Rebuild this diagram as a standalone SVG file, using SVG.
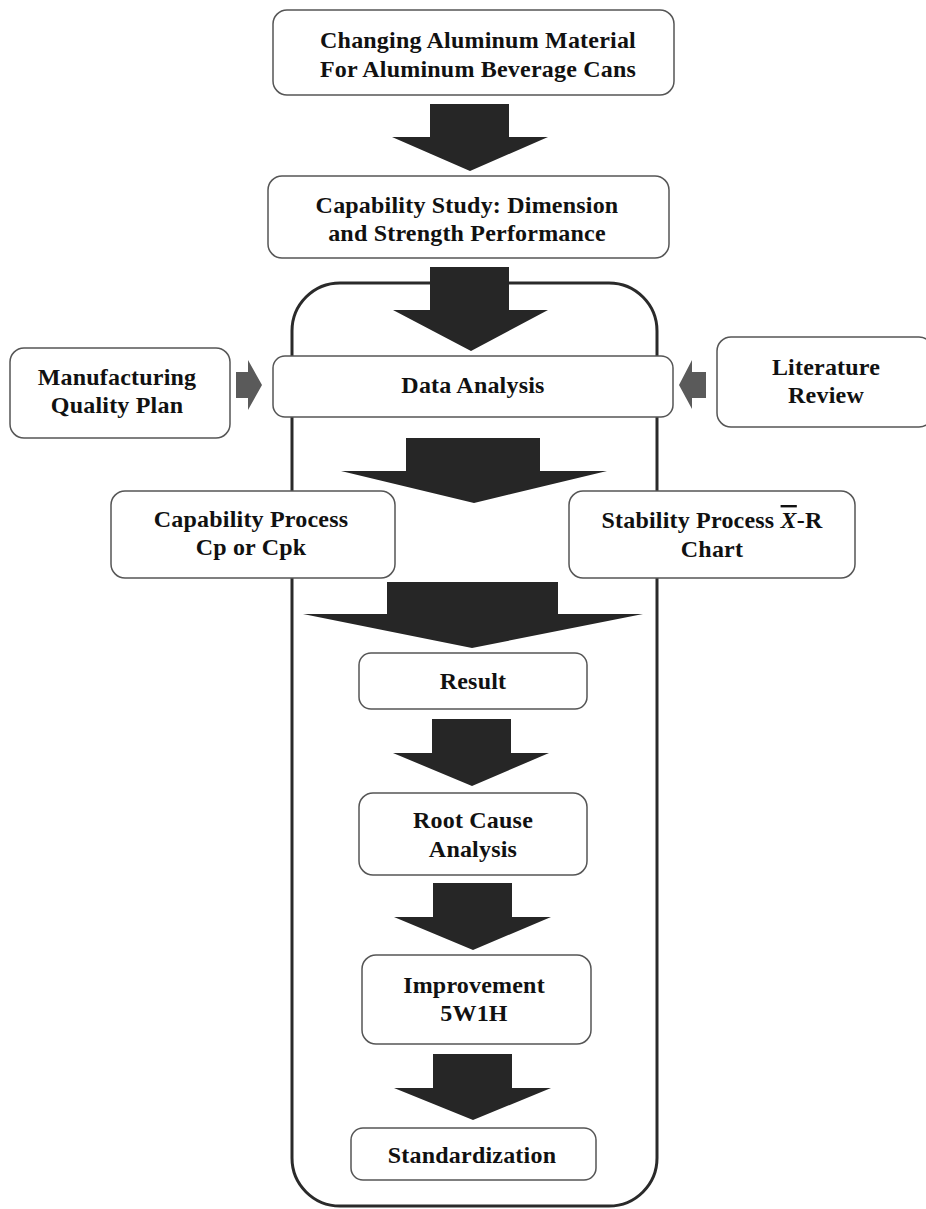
<svg xmlns="http://www.w3.org/2000/svg" width="926" height="1209" viewBox="0 0 926 1209">
<style>
.box{fill:#fff;stroke:#555;stroke-width:1.5}
.t{font-family:"Liberation Serif","Times New Roman",serif;font-weight:bold;font-size:24px;letter-spacing:0.2px;fill:#111;text-anchor:middle}
.arr{fill:#262626}
.garr{fill:#5a5a5a}
</style>
<rect width="926" height="1209" fill="#fff"/>
<rect id="container" x="292" y="283" width="365" height="923" rx="48" fill="none" stroke="#2a2a2a" stroke-width="3"/>
<g id="connectors">
<polygon class="arr" points="430,104 509,104 509,137 548,137 470,171 392,137 430,137"/>
<polygon class="arr" points="430,267 509,267 509,310 548,310 471,351 393,310 430,310"/>
<polygon class="arr" points="406,438 540,438 540,471 607,471 474,503 341,471 406,471"/>
<polygon class="arr" points="387,582 558,582 558,614 643,614 472,648 303,614 387,614"/>
<polygon class="arr" points="432,719 511,719 511,753 549,753 472,786 393,753 432,753"/>
<polygon class="arr" points="433,883 512,883 512,917 551,917 473,950 394,917 433,917"/>
<polygon class="arr" points="433,1054 512,1054 512,1088 551,1088 473,1120 394,1088 433,1088"/>
<polygon class="garr" points="236,372 248,372 248,360 262,385 248,410 248,398 236,398"/>
<polygon class="garr" points="706,372 692,372 692,360 679,385 692,409 692,398 706,398"/>
</g>
<g id="n1"><rect class="box" x="273" y="10" width="401" height="85" rx="14"/>
<text class="t" x="478" y="48">Changing Aluminum Material</text>
<text class="t" x="478" y="77">For Aluminum Beverage Cans</text></g>
<g id="n2"><rect class="box" x="268" y="176" width="401" height="82" rx="14"/>
<text class="t" x="467" y="213">Capability Study: Dimension</text>
<text class="t" x="467" y="241">and Strength Performance</text></g>
<g id="n3"><rect class="box" x="273" y="356" width="400" height="61" rx="12"/>
<text class="t" x="473" y="393">Data Analysis</text></g>
<g id="n4"><rect class="box" x="10" y="348" width="220" height="90" rx="14"/>
<text class="t" x="117" y="385">Manufacturing</text>
<text class="t" x="117" y="413">Quality Plan</text></g>
<g id="n5"><rect class="box" x="717" y="337" width="216" height="90" rx="14"/>
<text class="t" x="826" y="375">Literature</text>
<text class="t" x="826" y="403">Review</text></g>
<g id="n6"><rect class="box" x="111" y="491" width="284" height="87" rx="14"/>
<text class="t" x="251" y="527">Capability Process</text>
<text class="t" x="251" y="555">Cp or Cpk</text></g>
<g id="n7"><rect class="box" x="569" y="491" width="286" height="87" rx="14"/>
<text class="t" x="712" y="528">Stability Process <tspan font-style="italic" text-decoration="overline">X</tspan>-R</text>
<text class="t" x="712" y="557">Chart</text></g>
<g id="n8"><rect class="box" x="359" y="653" width="228" height="56" rx="12"/>
<text class="t" x="473" y="689">Result</text></g>
<g id="n9"><rect class="box" x="359" y="793" width="228" height="82" rx="14"/>
<text class="t" x="473" y="828">Root Cause</text>
<text class="t" x="473" y="857">Analysis</text></g>
<g id="n10"><rect class="box" x="362" y="955" width="229" height="89" rx="14"/>
<text class="t" x="474" y="993">Improvement</text>
<text class="t" x="474" y="1021">5W1H</text></g>
<g id="n11"><rect class="box" x="351" y="1128" width="245" height="52" rx="12"/>
<text class="t" x="472" y="1163">Standardization</text></g>
</svg>
